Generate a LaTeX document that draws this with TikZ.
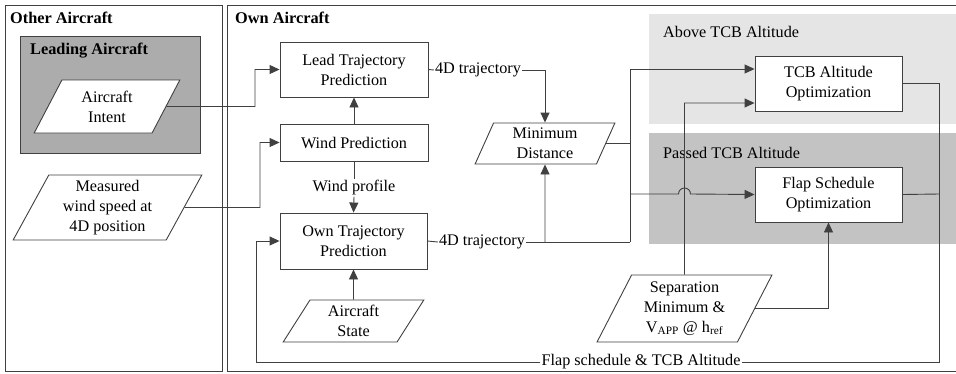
\documentclass[tikz,border=0pt]{standalone}
\usepackage{fontspec}
\setmainfont{Liberation Serif}
\usepackage{tikz}
\usetikzlibrary{arrows.meta,positioning,shapes.geometric,calc}
\definecolor{leadgray}{HTML}{ACACAC}
\definecolor{abovegray}{HTML}{E5E5E5}
\definecolor{passedgray}{HTML}{C3C3C3}
\definecolor{linegray}{HTML}{404040}
\tikzset{
  myproc/.style = {rectangle, draw=linegray, fill=white, line width=0.9pt, align=center, inner sep=2pt},
  mydata/.style = {trapezium, trapezium left angle=64, trapezium right angle=116, trapezium stretches=true,
                   draw=linegray, fill=white, line width=0.9pt, align=center, inner sep=1pt},
  myline/.style = {draw=linegray, line width=0.9pt},
  myarrow/.style = {-{Triangle[length=10pt,width=9pt]}, draw=linegray, line width=0.9pt},
  mylabel/.style = {inner sep=1pt, align=center},
  mytitle/.style = {anchor=west, inner sep=0pt, font=\fontsize{16.3}{19}\selectfont\bfseries},
  myzone/.style = {anchor=west, inner sep=0pt},
}

\begin{document}
\begin{tikzpicture}[x=1pt, y=-1pt, font=\fontsize{16.2}{20}\selectfont]
\useasboundingbox (0,0) rectangle (956,373);

% panels and zones
\draw[myline] (5,5) rectangle (222,371.5);
\draw[myline] (227,5) rectangle (970,371.5);
\fill[leadgray] (20,36) rectangle (200,153);
\draw[myline] (20,36) rectangle (200,153);
\fill[abovegray] (649,14) rectangle (956,124);
\fill[passedgray] (649,133) rectangle (956,244);

\node (tother) [mytitle] at (10,18) {Other Aircraft};
\node (town) [mytitle] at (235,18) {Own Aircraft};
\node (tlead) [mytitle] at (30,51) {Leading Aircraft};
\node (zabove) [myzone] at (663,32) {Above TCB Altitude};
\node (zpassed) [myzone] at (663,153) {Passed TCB Altitude};

% inputs
\node (intent) [mydata, minimum width=146pt, minimum height=53pt] at (107,106.5) {Aircraft\\Intent};
\node (measured) [mydata, minimum width=189pt, minimum height=65pt] at (107.5,207.5) {Measured\\wind speed at\\4D position};
\node (state) [mydata, minimum width=141pt, minimum height=42pt] at (353.5,321) {Aircraft\\State};
\node (sep) [mydata, minimum width=175pt, minimum height=67pt] at (684.5,308.5)
  {Separation\\Minimum \&\\V\textsubscript{APP} @ h\textsubscript{ref}};
\node (mindist) [mydata, trapezium left angle=70, trapezium right angle=110, minimum width=140pt, minimum height=41pt]
  at (545,143.5) {Minimum\\Distance};

% processes
\node (lead) [myproc, minimum width=148pt, minimum height=55pt] at (354,69.5) {Lead Trajectory\\Prediction};
\node (wind) [myproc, minimum width=148pt, minimum height=37pt] at (354,142.5) {Wind Prediction};
\node (own) [myproc, minimum width=147pt, minimum height=56pt] at (353.5,241) {Own Trajectory\\Prediction};
\node (tcb) [myproc, minimum width=147pt, minimum height=55pt] at (828.5,83.5) {TCB Altitude\\Optimization};
\node (flap) [myproc, minimum width=147pt, minimum height=55pt] at (828.5,194.5) {Flap Schedule\\Optimization};

% line labels
\node (traj1) [mylabel] at (478,70) {4D trajectory};
\node (wprof) [mylabel] at (354,188) {Wind profile};
\node (traj2) [mylabel] at (482,242) {4D trajectory};
\node (fb) [mylabel] at (641,362) {Flap schedule \& TCB Altitude};

\coordinate (jtop) at (630,69);
\coordinate (jmid) at (630,143.5);
\coordinate (jlow) at (630,194);
\coordinate (jbot) at (630,242);
\coordinate (jmin) at (545,242);
\coordinate (jout) at (939,194);

% connectors
\draw[myarrow] (intent.east) -- (255,106.5) |- (lead.west);
\draw[myarrow] (measured.east) -- (260,207.5) |- (wind.west);
\draw[myarrow] (wind) -- (lead);
\draw[myline] (lead.east) -- (traj1.west);
\draw[myarrow] (traj1.east) -| (mindist.north);
\draw[myline] (wind.south) -- (wprof.north);
\draw[myarrow] (wprof.south) -- (own.north);
\draw[myarrow] (state.north) -- (own.south);
\draw[myline] (own.east) -- (traj2.west);
\draw[myline] (traj2.east) -- (jbot);
\draw[myarrow] (jmin) -- (mindist.south);
\draw[myline] (mindist.east) -- (jmid);
\draw[myline] (jtop) -- (jbot);
\draw[myarrow] (jtop) -- (jtop -| tcb.west);
\draw[myarrow] (jlow) -- (678.5,194) arc[start angle=180, end angle=0, radius=6pt] -- (flap.west);
\draw[myarrow] (sep.north) -- (684.5,103) -- (tcb.west |- 0,103);
\draw[myarrow] (sep.east) -| (flap.south);
\draw[myline] (flap.east) -- (jout);
\draw[myline] (tcb.east) -| (939,362) -- (fb.east);
\draw[myarrow] (fb.west) -- (256,362) |- (own.west);
\end{tikzpicture}
\end{document}
